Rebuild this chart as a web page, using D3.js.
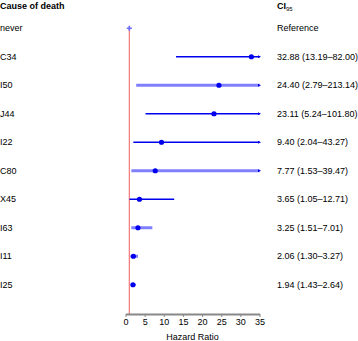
<!DOCTYPE html>
<html>
<head>
<meta charset="utf-8">
<script src="https://cdn.jsdelivr.net/npm/d3@7"></script>
<style>
  body { margin: 0; background: #fff; }
  text { font-family: "Liberation Sans", Arial, sans-serif; }
</style>
</head>
<body>
<svg id="forest" width="358" height="341"></svg>
<script>
// values
var causes = ["never", "C34", "I50", "J44", "I22", "C80", "X45", "I63", "I11", "I25"];
var hr     = [1, 32.88, 24.40, 23.11, 9.40, 7.77, 3.65, 3.25, 2.06, 1.94];
var lower  = [1, 13.19, 2.79, 5.24, 2.04, 1.53, 1.05, 1.51, 1.30, 1.43];
var upper  = [1, 82.00, 213.14, 101.80, 43.27, 39.47, 12.71, 7.01, 3.27, 2.64];
var ciText = ["Reference", "32.88 (13.19\u201382.00)", "24.40 (2.79\u2013213.14)", "23.11 (5.24\u2013101.80)",
              "9.40 (2.04\u201343.27)", "7.77 (1.53\u201339.47)", "3.65 (1.05\u201312.71)",
              "3.25 (1.51\u20137.01)", "2.06 (1.30\u20133.27)", "1.94 (1.43\u20132.64)"];
var group  = ["ref", "a", "b", "a", "a", "b", "a", "b", "b", "a"];
var xTicks = [0, 5, 10, 15, 20, 25, 30, 35];

var svg = d3.select("#forest");

var x = d3.scaleLinear().domain([0, 35]).range([125.5, 259.5]);
var y = d3.scaleBand().domain(causes).range([14, 299]);
var rowY = function (c) { return y(c) + y.bandwidth() / 2; };

var lineColor = d3.scaleOrdinal().domain(["a", "b"]).range(["#0000ee", "#8080ff"]);
var lineWidth = d3.scaleOrdinal().domain(["a", "b"]).range([1.3, 3]);

svg.append("defs").append("marker")
    .attr("id", "arr")
    .attr("viewBox", "0 0 6 6")
    .attr("refX", 3).attr("refY", 3)
    .attr("markerWidth", 3).attr("markerHeight", 3)
    .attr("markerUnits", "userSpaceOnUse")
    .attr("orient", "auto")
    .append("path").attr("d", "M0,0L6,3L0,6Z").attr("fill", "#0000ee");

var rows = causes.map(function (c, i) {
    return { cause: c, hr: hr[i], lo: lower[i], hi: upper[i], ci: ciText[i], g: group[i] };
});

// header
svg.append("text").attr("x", 0).attr("y", 8.5)
    .attr("font-size", 9).attr("font-weight", "bold").text("Cause of death");
var ciHead = svg.append("text").attr("x", 277).attr("y", 8.5)
    .attr("font-size", 9).attr("font-weight", "bold");
ciHead.append("tspan").text("CI");
ciHead.append("tspan").attr("font-size", 6).attr("dy", 2).attr("font-weight", "normal").text("95");

// reference line at HR = 1
svg.append("line")
    .attr("x1", x(1)).attr("x2", x(1))
    .attr("y1", rowY("never")).attr("y2", 314)
    .attr("stroke", "#f07878").attr("stroke-width", 1.2);

// axis
var axis = svg.append("g")
    .attr("transform", "translate(0,314)")
    .call(d3.axisBottom(x).tickValues(xTicks).tickSize(3).tickPadding(2).tickSizeOuter(0));
axis.select(".domain").attr("stroke", "#888").attr("stroke-width", 2);
axis.selectAll(".tick line").attr("stroke", "#888");
axis.selectAll(".tick text").attr("font-size", 9).attr("font-family", "Liberation Sans, Arial, sans-serif").attr("fill", "#000");

svg.append("text").attr("x", (x(0) + x(35)) / 2).attr("y", 340)
    .attr("text-anchor", "middle").attr("font-size", 9).text("Hazard Ratio");

// row labels and CI text
svg.selectAll(".lab").data(rows).enter().append("text")
    .attr("class", "lab")
    .attr("x", 0).attr("y", function (d) { return rowY(d.cause); })
    .attr("dy", "0.35em").attr("font-size", 9)
    .text(function (d) { return d.cause; });

svg.selectAll(".ci").data(rows).enter().append("text")
    .attr("class", "ci")
    .attr("x", 277).attr("y", function (d) { return rowY(d.cause); })
    .attr("dy", "0.35em").attr("font-size", 9)
    .text(function (d) { return d.ci; });

// confidence intervals
var est = rows.filter(function (d) { return d.g !== "ref"; });
var xMax = x.domain()[1];

svg.selectAll(".ciline").data(est).enter().append("line")
    .attr("class", "ciline")
    .attr("x1", function (d) { return x(d.lo); })
    .attr("x2", function (d) { return x(Math.min(d.hi, xMax)); })
    .attr("y1", function (d) { return rowY(d.cause); })
    .attr("y2", function (d) { return rowY(d.cause); })
    .attr("stroke", function (d) { return lineColor(d.g); })
    .attr("stroke-width", function (d) { return lineWidth(d.g); })
    .attr("marker-end", function (d) { return d.hi > xMax ? "url(#arr)" : null; });

svg.selectAll(".pt").data(est).enter().append("circle")
    .attr("class", "pt")
    .attr("cx", function (d) { return x(d.hr); })
    .attr("cy", function (d) { return rowY(d.cause); })
    .attr("r", 2.6)
    .attr("fill", "#0000ee");

// reference marker
var ref = rows[0];
svg.append("path")
    .attr("transform", "translate(" + x(ref.hr) + "," + rowY(ref.cause) + ")")
    .attr("d", d3.symbol(d3.symbolCross, 14)())
    .attr("fill", "#6a6aff");
</script>
</body>
</html>
